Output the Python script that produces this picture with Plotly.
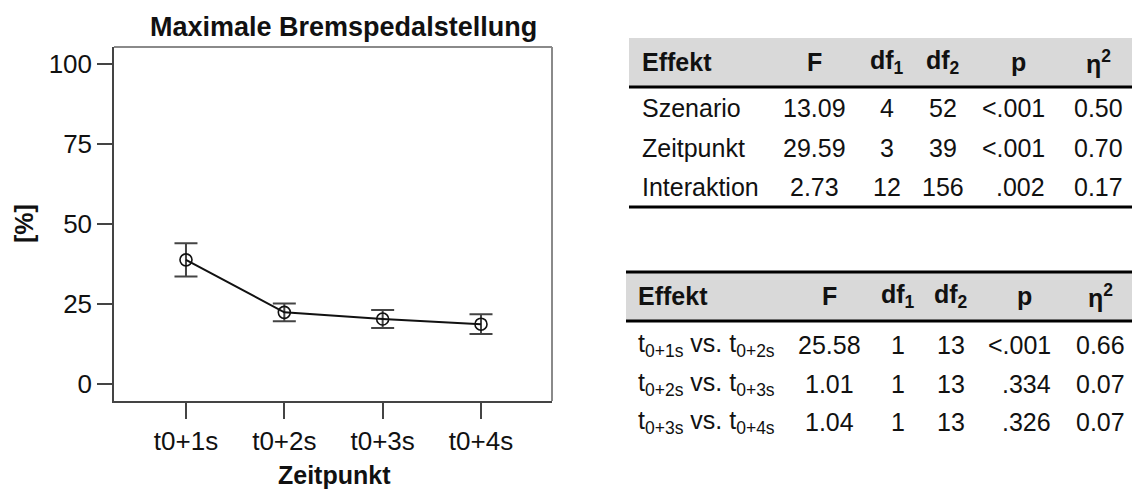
import plotly.graph_objects as go

# ---- chart data -------------------------------------------------------
zeitpunkte = ["t0+1s", "t0+2s", "t0+3s", "t0+4s"]
mittelwerte = [38.7, 22.3, 20.2, 18.6]
fehler = [5.2, 2.8, 2.8, 3.1]
y_ticks = [0, 25, 50, 75, 100]

# ---- ANOVA main effects -----------------------------------------------
effekte = ["Szenario", "Zeitpunkt", "Interaktion"]
eff_F = [13.09, 29.59, 2.73]
eff_df1 = [4, 3, 12]
eff_df2 = [52, 39, 156]
eff_p = ["&lt;.001", "&lt;.001", ".002"]
eff_eta = [0.50, 0.70, 0.17]

# ---- contrasts between successive time points -------------------------
kontraste = [("0+1s", "0+2s"), ("0+2s", "0+3s"), ("0+3s", "0+4s")]
kon_F = [25.58, 1.01, 1.04]
kon_df1 = [1, 1, 1]
kon_df2 = [13, 13, 13]
kon_p = ["&lt;.001", ".334", ".326"]
kon_eta = [0.66, 0.07, 0.07]

W, H = 1132, 492
FONT = "Liberation Sans, Arial, Helvetica, sans-serif"


def fx(x):
    return x / W


def fy(y):
    return 1 - y / H


fig = go.Figure()

fig.add_trace(go.Scatter(
    x=list(range(1, len(zeitpunkte) + 1)),
    y=mittelwerte,
    mode="lines+markers",
    line=dict(color="#111111", width=2),
    marker=dict(symbol="circle-open", size=12,
                line=dict(color="#111111", width=1.6)),
    error_y=dict(type="data", array=fehler, visible=True,
                 color="#444444", thickness=2, width=11.5),
    showlegend=False,
    hoverinfo="skip",
))

annotations = []
shapes = []


def text(x, y, s, size=25, bold=False, anchor="center", angle=0):
    if bold:
        s = "<b>" + s + "</b>"
    annotations.append(dict(
        x=fx(x), y=fy(y), xref="paper", yref="paper", text=s,
        showarrow=False, xanchor=anchor, yanchor="middle",
        textangle=angle, font=dict(family=FONT, size=size, color="#111111"),
    ))


def rect(x0, y0, x1, y1, color):
    shapes.append(dict(type="rect", xref="paper", yref="paper",
                       x0=fx(x0), x1=fx(x1), y0=fy(y1), y1=fy(y0),
                       fillcolor=color, line=dict(width=0), layer="below"))


def hline(x0, x1, y, width=3, color="#000000"):
    shapes.append(dict(type="line", xref="paper", yref="paper",
                       x0=fx(x0), x1=fx(x1), y0=fy(y), y1=fy(y),
                       line=dict(color=color, width=width)))


# chart title and axis titles
text(343, 27, "Maximale Bremspedalstellung", size=27, bold=True)
text(334, 475, "Zeitpunkt", size=25, bold=True)
text(24, 224, "[%]", size=25, bold=True, angle=-90)

# upper / right frame of the plot area
shapes.append(dict(type="line", xref="paper", yref="paper",
                   x0=fx(114), x1=fx(552), y0=fy(47), y1=fy(47),
                   line=dict(color="#8a8a8a", width=2)))
shapes.append(dict(type="line", xref="paper", yref="paper",
                   x0=fx(552), x1=fx(552), y0=fy(47), y1=fy(401),
                   line=dict(color="#8a8a8a", width=2)))


def tabelle(rows, F, d1, d2, p, eta, cols, top, head_mid, row_mids,
            left, top_rule, bottom_rule):
    x_eff, x_F, x_d1, x_d2, x_p, x_eta = cols
    rect(left, top, W, head_mid + 25, "#d9d9d9")
    if top_rule:
        hline(left, W, top)
    hline(left, W, head_mid + 25)
    if bottom_rule is not None:
        hline(left, W, bottom_rule)
    text(x_eff, head_mid, "Effekt", bold=True, anchor="left")
    text(x_F, head_mid, "F", bold=True)
    text(x_d1, head_mid, "df<sub>1</sub>", bold=True)
    text(x_d2, head_mid, "df<sub>2</sub>", bold=True)
    text(x_p + 1 - 30, head_mid, "p", bold=True)
    text(x_eta, head_mid, "η<sup>2</sup>", bold=True)
    for i, y in enumerate(row_mids):
        text(x_eff, y, rows[i], anchor="left")
        text(x_F, y, f"{F[i]:.2f}")
        text(x_d1, y, str(d1[i]))
        text(x_d2, y, str(d2[i]))
        text(x_p, y, p[i], anchor="right")
        text(x_eta, y, f"{eta[i]:.2f}")


tabelle(effekte, eff_F, eff_df1, eff_df2, eff_p, eff_eta,
        cols=(640, 814, 887, 943, 1047, 1098),
        top=38, head_mid=62, row_mids=[108, 148, 187],
        left=629, top_rule=False, bottom_rule=207)

kontrast_labels = [f"t<sub>{a}</sub> vs. t<sub>{b}</sub>" for a, b in kontraste]
tabelle(kontrast_labels, kon_F, kon_df1, kon_df2, kon_p, kon_eta,
        cols=(636, 829, 898, 951, 1053, 1100),
        top=272, head_mid=296, row_mids=[345, 384, 422],
        left=626, top_rule=True, bottom_rule=None)

fig.update_layout(
    width=W, height=H, autosize=False,
    margin=dict(l=0, r=0, t=0, b=0),
    paper_bgcolor="white", plot_bgcolor="white",
    font=dict(family=FONT, color="#111111"),
    xaxis=dict(
        domain=[fx(114), fx(552)],
        range=[0.268, 4.722],
        tickvals=list(range(1, len(zeitpunkte) + 1)),
        ticktext=zeitpunkte,
        tickfont=dict(size=26, family=FONT, color="#111111"),
        showline=True, linecolor="#444444", linewidth=1.5,
        ticks="outside", ticklen=16, tickwidth=1.5, tickcolor="#444444",
        showgrid=False, zeroline=False, fixedrange=True,
    ),
    yaxis=dict(
        domain=[fy(401), fy(47)],
        range=[-5.4, 105.2],
        tickvals=y_ticks,
        tickfont=dict(size=26, family=FONT, color="#111111"),
        showline=True, linecolor="#444444", linewidth=1.5,
        ticks="outside", ticklen=15, tickwidth=1.5, tickcolor="#444444",
        showgrid=False, zeroline=False, fixedrange=True,
    ),
    annotations=annotations,
    shapes=shapes,
)

fig.write_html("out.html")
